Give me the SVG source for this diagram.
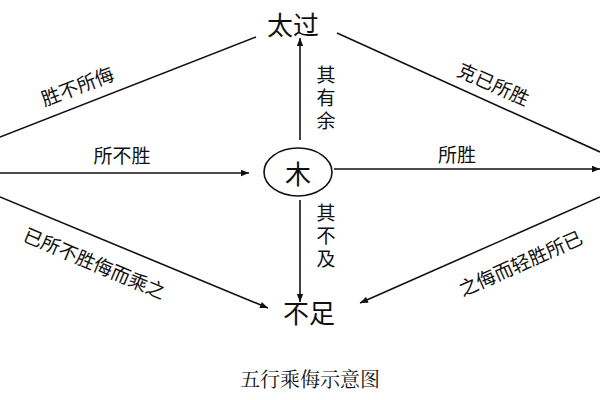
<svg xmlns="http://www.w3.org/2000/svg" width="600" height="400" viewBox="0 0 600 400">
<style>
text{font-family:"Noto Sans CJK SC","Noto Sans CJK JP",sans-serif;fill:#111;text-anchor:middle;dominant-baseline:central}
.l{font-size:19px}.b{font-size:26px}
.v{font-size:19px;writing-mode:vertical-rl;letter-spacing:4px}
line{stroke:#111;stroke-width:1.6}
</style>
<defs><marker id="a" viewBox="0 0 10 10" refX="10" refY="5" markerWidth="10" markerHeight="8" orient="auto" markerUnits="userSpaceOnUse"><path d="M0,1 L10,5 L0,9 Z" fill="#111"/></marker></defs>
<rect width="600" height="400" fill="#fff"/>
<g id="connectors">
<line x1="0" y1="137" x2="256" y2="37"/>
<line x1="337" y1="33" x2="600" y2="152"/>
<line x1="0" y1="173" x2="249" y2="173" marker-end="url(#a)"/>
<line x1="334" y1="169" x2="600" y2="169" marker-end="url(#a)"/>
<line x1="300" y1="140" x2="300" y2="38" marker-end="url(#a)"/>
<line x1="300" y1="200" x2="300" y2="302" marker-end="url(#a)"/>
<line x1="0" y1="197" x2="268" y2="308" marker-end="url(#a)"/>
<line x1="600" y1="197" x2="360" y2="303" marker-end="url(#a)"/>
</g>
<g id="taiguo"><text class="b" x="293" y="23">太过</text></g>
<g id="buzu"><text class="b" x="309" y="311">不足</text></g>
<g id="mu"><ellipse cx="298" cy="172" rx="34" ry="24" fill="none" stroke="#111" stroke-width="1.6"/><text class="b" x="298" y="172">木</text></g>
<g id="labels">
<text class="l" transform="translate(77,85) rotate(-21)">胜不所侮</text>
<text class="l" transform="translate(494,83) rotate(24)">克已所胜</text>
<text class="l" x="122" y="154">所不胜</text>
<text class="l" x="457" y="153">所胜</text>
<text class="v" x="326" y="100">其有余</text>
<text class="v" x="326" y="238">其不及</text>
<text class="l" transform="translate(95,262) rotate(23)">已所不胜侮而乘之</text>
<text class="l" transform="translate(520,262) rotate(-24)">之侮而轻胜所已</text>
<text x="310" y="378" style="font-size:20px;font-family:'Noto Serif CJK SC','Noto Sans CJK SC',serif">五行乘侮示意图</text>
</g>
</svg>
